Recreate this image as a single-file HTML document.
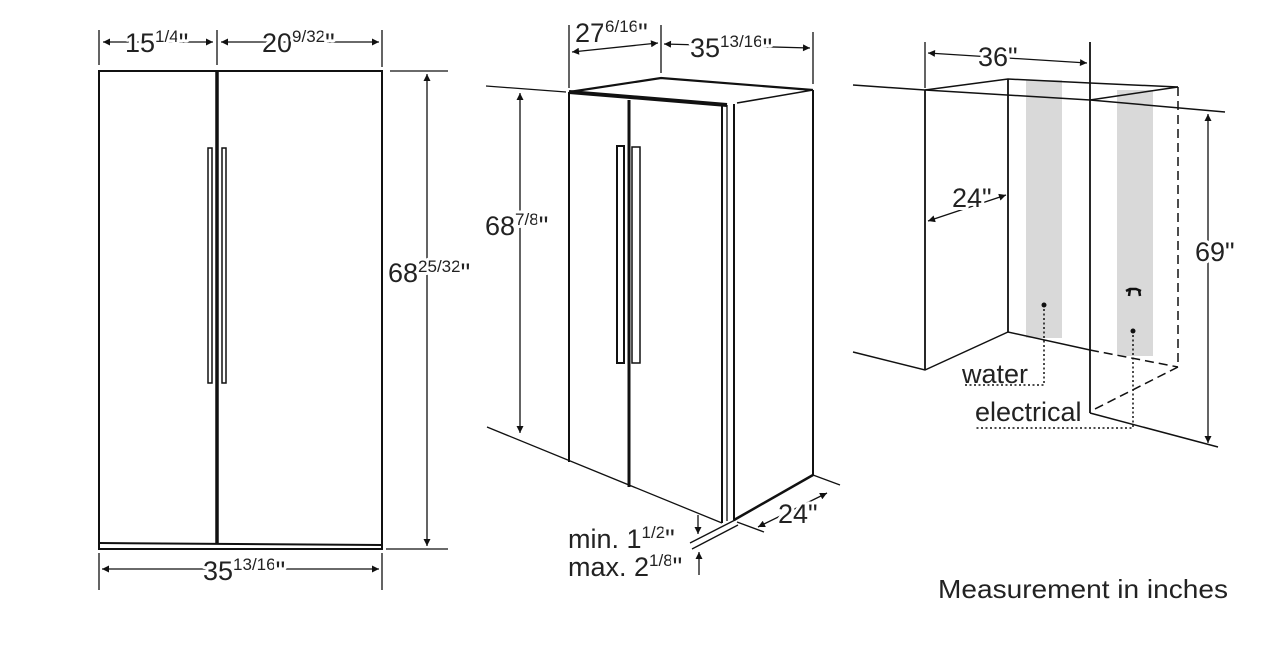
<!DOCTYPE html>
<html><head><meta charset="utf-8"><style>
html,body{margin:0;padding:0;background:#fff;}
svg{display:block;}
text{font-family:"Liberation Sans",sans-serif;fill:#222;paint-order:stroke;stroke:#fff;stroke-width:6px;stroke-linejoin:round;}
</style></head><body>
<svg width="1282" height="662" viewBox="0 0 1282 662" xmlns="http://www.w3.org/2000/svg">
<defs>
<marker id="a" viewBox="0 0 10 10" refX="10" refY="5" markerWidth="9" markerHeight="7" orient="auto-start-reverse" markerUnits="userSpaceOnUse"><path d="M0,0 L10,5 L0,10 z" fill="#111"/></marker>
</defs>
<g stroke="#111" fill="none">
<rect x="99" y="71" width="283" height="478" stroke-width="2"/>
<line x1="99" y1="543" x2="382" y2="545" stroke-width="2"/>
<line x1="217" y1="71" x2="217" y2="543" stroke-width="3.5"/>
<rect x="208" y="148" width="4" height="235" stroke-width="1.5"/>
<rect x="222" y="148" width="4" height="235" stroke-width="1.5"/>
<line x1="99" y1="30" x2="99" y2="65" stroke-width="1.3"/>
<line x1="217" y1="30" x2="217" y2="65" stroke-width="1.3"/>
<line x1="382" y1="30" x2="382" y2="67" stroke-width="1.3"/>
<line x1="103" y1="42" x2="213" y2="42" stroke-width="1.3" marker-start="url(#a)" marker-end="url(#a)"/>
<line x1="221" y1="42" x2="379" y2="42" stroke-width="1.3" marker-start="url(#a)" marker-end="url(#a)"/>
<line x1="99" y1="553" x2="99" y2="590" stroke-width="1.3"/>
<line x1="382" y1="553" x2="382" y2="590" stroke-width="1.3"/>
<line x1="102" y1="569" x2="379" y2="569" stroke-width="1.3" marker-start="url(#a)" marker-end="url(#a)"/>
<line x1="390" y1="71" x2="448" y2="71" stroke-width="1.3"/>
<line x1="386" y1="549" x2="448" y2="549" stroke-width="1.3"/>
<line x1="427" y1="74" x2="427" y2="546" stroke-width="1.3" marker-start="url(#a)" marker-end="url(#a)"/>

<polyline points="569,92 661,78 813,90" stroke-width="2.2"/>
<polyline points="569,92 727,105" stroke-width="4"/>
<line x1="737" y1="103" x2="813" y2="90" stroke-width="1.5"/>
<line x1="486" y1="86" x2="566" y2="92" stroke-width="1.3"/>
<line x1="569" y1="92" x2="569" y2="462" stroke-width="2"/>
<line x1="629" y1="100" x2="629" y2="487" stroke-width="3"/>
<line x1="722" y1="104" x2="722" y2="523" stroke-width="2"/>
<line x1="727" y1="105" x2="727" y2="521" stroke-width="1.3"/>
<line x1="734" y1="104" x2="734" y2="520" stroke-width="2"/>
<line x1="813" y1="90" x2="813" y2="475" stroke-width="2"/>
<line x1="734" y1="520" x2="813" y2="475" stroke-width="2.5"/>
<line x1="487" y1="427" x2="722" y2="523" stroke-width="1.3"/>
<line x1="737" y1="522" x2="764" y2="532" stroke-width="1.3"/>
<line x1="813" y1="475" x2="840" y2="485" stroke-width="1.3"/>
<line x1="758" y1="527" x2="827" y2="493" stroke-width="1.3" marker-start="url(#a)" marker-end="url(#a)"/>
<rect x="617" y="146" width="7" height="217" stroke-width="2"/>
<rect x="632" y="147" width="8" height="216" stroke-width="1.5"/>
<line x1="629" y1="146" x2="629" y2="363" stroke-width="3"/>
<line x1="520" y1="93" x2="520" y2="433" stroke-width="1.3" marker-start="url(#a)" marker-end="url(#a)"/>
<line x1="569" y1="25" x2="569" y2="88" stroke-width="1.3"/>
<line x1="661" y1="25" x2="661" y2="73" stroke-width="1.3"/>
<line x1="813" y1="32" x2="813" y2="84" stroke-width="1.3"/>
<line x1="572" y1="52" x2="658" y2="43" stroke-width="1.3" marker-start="url(#a)" marker-end="url(#a)"/>
<line x1="664" y1="44" x2="810" y2="48" stroke-width="1.3" marker-start="url(#a)" marker-end="url(#a)"/>
<line x1="690" y1="543" x2="735" y2="520" stroke-width="1.3"/>
<line x1="692" y1="549" x2="738" y2="525" stroke-width="1.3"/>
<line x1="698" y1="515" x2="698" y2="534" stroke-width="1.3" marker-end="url(#a)"/>
<line x1="699" y1="575" x2="699" y2="552" stroke-width="1.3" marker-end="url(#a)"/>

<rect x="1026" y="80" width="36" height="258" fill="#d9d9d9" stroke="none"/>
<rect x="1117" y="90" width="36" height="266" fill="#d9d9d9" stroke="none"/>
<line x1="853" y1="85" x2="925" y2="90" stroke-width="1.5"/>
<polyline points="925,90 1008,79 1090,83 1178,87" stroke-width="1.5"/>
<polyline points="925,90 1090,100 1225,112" stroke-width="1.5"/>
<line x1="1090" y1="100" x2="1178" y2="87" stroke-width="1.5"/>
<line x1="925" y1="90" x2="925" y2="370" stroke-width="1.8"/>
<line x1="1008" y1="79" x2="1008" y2="332" stroke-width="1.8"/>
<line x1="1090" y1="42" x2="1090" y2="413" stroke-width="1.8"/>
<line x1="1178" y1="87" x2="1178" y2="367" stroke-width="1.5" stroke-dasharray="9,5"/>
<polyline points="853,352 925,370 1008,332 1090,350" stroke-width="1.5"/>
<line x1="1090" y1="350" x2="1178" y2="367" stroke-width="1.5" stroke-dasharray="9,5"/>
<line x1="1178" y1="367" x2="1093" y2="410" stroke-width="1.5" stroke-dasharray="9,5"/>
<line x1="1090" y1="413" x2="1218" y2="447" stroke-width="1.5"/>
<line x1="925" y1="42" x2="925" y2="88" stroke-width="1.3"/>
<line x1="928" y1="53" x2="1087" y2="63" stroke-width="1.3" marker-start="url(#a)" marker-end="url(#a)"/>
<line x1="928" y1="221" x2="1006" y2="195" stroke-width="1.3" marker-start="url(#a)" marker-end="url(#a)"/>
<line x1="1208" y1="114" x2="1208" y2="443" stroke-width="1.3" marker-start="url(#a)" marker-end="url(#a)"/>
<circle cx="1044" cy="305" r="2.5" fill="#111" stroke="none"/>
<polyline points="1044,309 1044,385 963,385" stroke-width="1.5" stroke-dasharray="2,2.5"/>
<circle cx="1133" cy="331" r="2.5" fill="#111" stroke="none"/>
<polyline points="1133,335 1133,428 975,428" stroke-width="1.5" stroke-dasharray="2,2.5"/>
<path d="M1126,291 l4,-2 l6,0 l5,2 M1130,289 l-1,7 M1139,290 l1,6" stroke-width="2.5"/>
</g>
<g font-size="27">
<text x="125" y="52">15<tspan font-size="17" dy="-10">1/4</tspan><tspan dy="10">"</tspan></text>
<text x="262" y="52">20<tspan font-size="17" dy="-10">9/32</tspan><tspan dy="10">"</tspan></text>
<text x="203" y="580">35<tspan font-size="17" dy="-10">13/16</tspan><tspan dy="10">"</tspan></text>
<text x="388" y="282">68<tspan font-size="17" dy="-10">25/32</tspan><tspan dy="10">"</tspan></text>
<text x="485" y="235">68<tspan font-size="17" dy="-10">7/8</tspan><tspan dy="10">"</tspan></text>
<text x="575" y="42">27<tspan font-size="17" dy="-10">6/16</tspan><tspan dy="10">"</tspan></text>
<text x="690" y="57">35<tspan font-size="17" dy="-10">13/16</tspan><tspan dy="10">"</tspan></text>
<text x="778" y="523">24"</text>
<text x="568" y="548">min. 1<tspan font-size="17" dy="-10">1/2</tspan><tspan dy="10">"</tspan></text>
<text x="568" y="576">max. 2<tspan font-size="17" dy="-10">1/8</tspan><tspan dy="10">"</tspan></text>
<text x="978" y="66">36"</text>
<text x="952" y="207">24"</text>
<text x="1195" y="261">69"</text>
<text x="962" y="383" style="stroke:none">water</text>
<text x="975" y="421" style="stroke:none">electrical</text>
<text x="938" y="598" font-size="26" textLength="290" lengthAdjust="spacingAndGlyphs">Measurement in inches</text>
</g>
</svg>
</body></html>
